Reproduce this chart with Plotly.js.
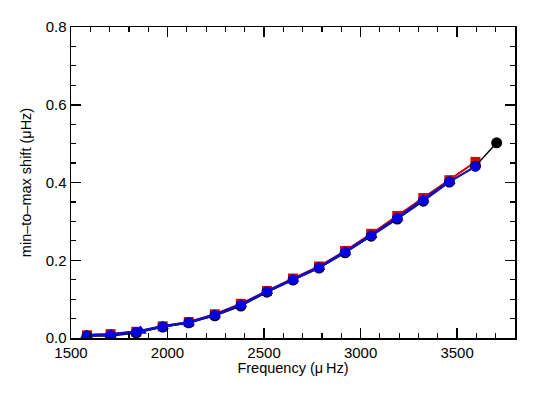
<!DOCTYPE html>
<html>
<head>
<meta charset="utf-8">
<script src="https://cdn.plot.ly/plotly-3.0.1.min.js"></script>
<style>
  html, body { margin: 0; padding: 0; background: #fff; }
  #plot { width: 538px; height: 396px; }
</style>
</head>
<body>
<div id="plot"></div>
<script>
// frequencies (µHz)
var freqBlack = [1583, 1705, 1838, 1975, 2110, 2245, 2380, 2515, 2650, 2785, 2920, 3055, 3190, 3325, 3460, 3595, 3705];
var shiftBlack = [0.005, 0.005, 0.013, 0.028, 0.039, 0.057, 0.082, 0.118, 0.149, 0.180, 0.219, 0.262, 0.306, 0.352, 0.401, 0.442, 0.502];

var freqRed = [1583, 1705, 1838, 1975, 2110, 2245, 2380, 2515, 2650, 2785, 2920, 3055, 3190, 3325, 3460, 3595];
var shiftRed = [0.007, 0.010, 0.016, 0.030, 0.041, 0.061, 0.088, 0.121, 0.153, 0.184, 0.224, 0.268, 0.314, 0.360, 0.406, 0.453];

var freqTri = [1580, 1705, 1860, 1975, 2110, 2245, 2380, 2515, 2650, 2785, 2920, 3055, 3190, 3325, 3460];
var shiftTri = [0.008, 0.009, 0.018, 0.030, 0.040, 0.060, 0.086, 0.120, 0.151, 0.182, 0.222, 0.264, 0.309, 0.356, 0.403];

var freqBlue = [1583, 1705, 1838, 1975, 2110, 2245, 2380, 2515, 2650, 2785, 2920, 3055, 3190, 3325, 3460, 3595];
var shiftBlue = [0.006, 0.008, 0.015, 0.029, 0.040, 0.059, 0.085, 0.119, 0.150, 0.181, 0.221, 0.263, 0.308, 0.354, 0.402, 0.441];

var xTicks = [1500, 2000, 2500, 3000, 3500];
var yTicks = [0.0, 0.2, 0.4, 0.6, 0.8];

var traces = [
  {
    x: freqRed, y: shiftRed, mode: 'lines+markers', type: 'scatter',
    line: { color: '#e00000', width: 2 },
    marker: { symbol: 'square', size: 10, color: '#e00000' }
  },
  {
    x: freqBlack, y: shiftBlack, mode: 'lines+markers', type: 'scatter',
    line: { color: '#000', width: 1.5 },
    marker: { symbol: 'circle', size: 11, color: '#000' }
  },
  {
    x: freqTri, y: shiftTri, mode: 'lines+markers', type: 'scatter',
    line: { color: '#0000e0', width: 2.5 },
    marker: { symbol: 'triangle-up', size: 11, color: '#0000e0' }
  },
  {
    x: freqBlue, y: shiftBlue, mode: 'lines+markers', type: 'scatter',
    line: { color: '#1010c0', width: 2 },
    marker: { symbol: 'circle', size: 10, color: '#0000e0' }
  }
];

var axisFont = { family: 'Liberation Sans, Arial, sans-serif', size: 15, color: '#000' };

var layout = {
  width: 538, height: 396,
  margin: { l: 71, r: 23, t: 27, b: 58 },
  paper_bgcolor: '#fff', plot_bgcolor: '#fff',
  showlegend: false,
  font: axisFont,
  xaxis: {
    range: [1500, 3800],
    tickvals: xTicks,
    ticktext: xTicks.map(String),
    ticks: 'inside', ticklen: 10, tickwidth: 1.5, tickcolor: '#000',
    minor: { dtick: 100, ticks: 'inside', ticklen: 5, tickwidth: 1.2, tickcolor: '#000' },
    showline: true, linecolor: '#000', linewidth: 1.5, mirror: 'allticks',
    showgrid: false, zeroline: false,
    tickfont: axisFont,
    title: { text: 'Frequency (μ\u2009Hz)', font: { family: 'Liberation Sans, Arial, sans-serif', size: 14.5 }, standoff: 2 }
  },
  yaxis: {
    range: [0, 0.8],
    tickvals: yTicks,
    ticktext: yTicks.map(function (v) { return v.toFixed(1); }),
    ticks: 'inside', ticklen: 10, tickwidth: 1.5, tickcolor: '#000',
    minor: { dtick: 0.05, ticks: 'inside', ticklen: 5, tickwidth: 1.2, tickcolor: '#000' },
    showline: true, linecolor: '#000', linewidth: 1.5, mirror: 'allticks',
    showgrid: false, zeroline: false,
    tickfont: axisFont,
    title: { text: 'min–to–max shift (μHz)', font: { family: 'Liberation Sans, Arial, sans-serif', size: 14.5 }, standoff: 10 }
  }
};

Plotly.newPlot('plot', traces, layout, { staticPlot: true, displayModeBar: false });
</script>
</body>
</html>
